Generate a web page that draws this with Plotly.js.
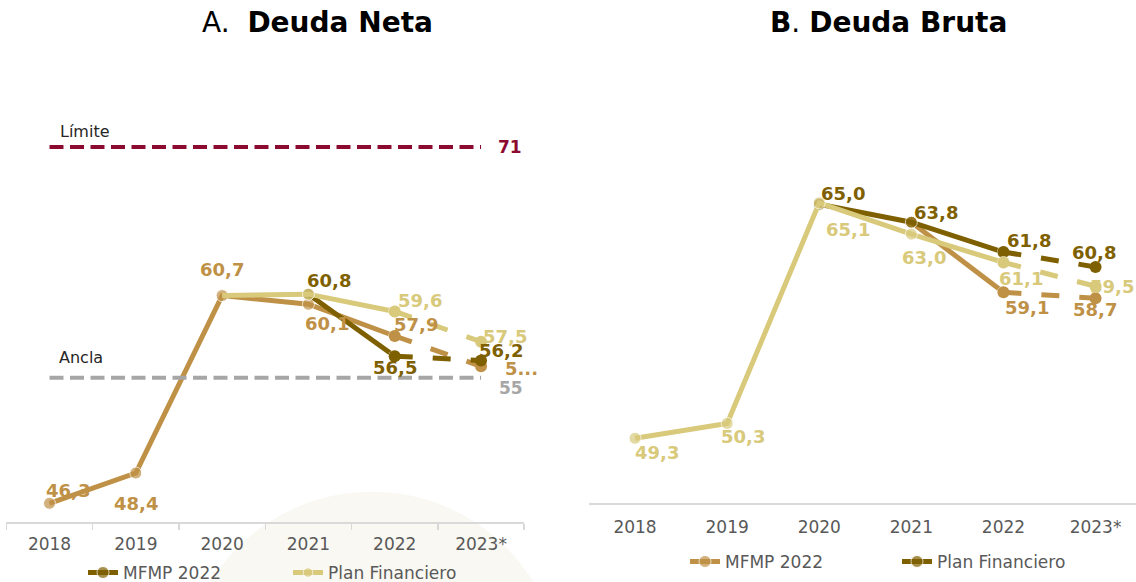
<!DOCTYPE html>
<html>
<head>
<meta charset="utf-8">
<script src="https://cdn.plot.ly/plotly-3.0.1.min.js"></script>
<style>
html,body{margin:0;padding:0;background:#fff;overflow:hidden;}
#chart{position:absolute;left:0;top:0;width:1136px;overflow:hidden;}
</style>
</head>
<body>
<div id="chart"></div>
<script>
// ---------- DATA ----------
const years = ['2018', '2019', '2020', '2021', '2022', '2023*'];

// A. Deuda Neta
const netaMedio = [46.3, 48.4, 60.7, 60.1, 57.9, 55.8];        // medium brown series
const netaMFMP  = [null, null, null, 60.8, 56.5, 56.2];        // dark series (legend: MFMP 2022)
const netaPlan  = [null, null, 60.7, 60.8, 59.6, 57.5];        // light series (legend: Plan Financiero)
const limite = 71;
const ancla = 55;

// B. Deuda Bruta
const brutaClaro = [49.3, 50.3, 65.1, 63.0, 61.1, 59.5];       // light series
const brutaPlan  = [null, null, 65.0, 63.8, 61.8, 60.8];       // dark series (legend: Plan Financiero)
const brutaMFMP  = [null, null, null, 63.8, 59.1, 58.7];       // medium series (legend: MFMP 2022)

// truncated label as shown in the original chart
const truncatedLabels = {'netaMedio-5': '5...'};

// ---------- STYLE ----------
const C_DARK = '#7F6000';
const C_MED = '#BF9146';
const C_LIGHT = '#D8C97B';
const C_LIM = '#8C0A30';
const C_ANCLA = '#A6A6A6';
const W = 1136, H0 = 582;          // reference picture size (positions below are in its pixels)
const H = 591;                      // render height (picture is fitted back to 582)
const ks = H / H0;
document.documentElement.style.height = H + 'px';
document.body.style.height = H + 'px';
document.getElementById('chart').style.height = H + 'px';
const px = v => v / W;
const py = v => 1 - v / H0;
const FONT = 'DejaVu Sans, Verdana, sans-serif';

function fmt(v) { return v.toFixed(1).replace('.', ','); }

const traces = [];
function addSeries(vals, color, xa, ya, opts) {
  const solidX = years.slice(0, 5), solidY = vals.slice(0, 5);
  const msz = solidY.map((v, i) => (opts.hideFirst && v !== null && (i === 0 || solidY[i - 1] === null)) ? 0 : 12);
  traces.push({
    x: solidX, y: solidY, xaxis: xa, yaxis: ya, type: 'scatter', mode: 'lines+markers',
    line: {color: color, width: 5}, marker: {color: color, size: msz},
    name: opts.name || '', showlegend: !!opts.name, legend: opts.legend || 'legend',
    hoverinfo: 'skip'
  });
  traces.push({
    x: years.slice(4), y: vals.slice(4), xaxis: xa, yaxis: ya, type: 'scatter', mode: 'lines+markers',
    line: {color: color, width: 5, dash: '18px,20px'}, marker: {color: color, size: 12},
    showlegend: false, hoverinfo: 'skip'
  });
}

// Panel A (draw order: medium, dark, light)
addSeries(netaMedio, C_MED, 'x', 'y', {});
addSeries(netaMFMP, C_DARK, 'x', 'y', {name: 'MFMP 2022', legend: 'legend'});
addSeries(netaPlan, C_LIGHT, 'x', 'y', {name: 'Plan Financiero', legend: 'legend', hideFirst: true});
// Panel B
addSeries(brutaMFMP, C_MED, 'x2', 'y2', {name: 'MFMP 2022', legend: 'legend2'});
addSeries(brutaPlan, C_DARK, 'x2', 'y2', {name: 'Plan Financiero', legend: 'legend2'});
addSeries(brutaClaro, C_LIGHT, 'x2', 'y2', {});

// ---------- DATA LABELS ----------
const annotations = [];
function addLabels(key, vals, color, xa, ya, shifts) {
  vals.forEach((v, i) => {
    if (v === null || !shifts[i]) return;
    const t = truncatedLabels[key + '-' + i] || fmt(v);
    annotations.push({
      x: i, y: v, xref: xa, yref: ya, text: '<b>' + t + '</b>', showarrow: false,
      xanchor: 'center', yanchor: 'middle',
      xshift: shifts[i][0], yshift: -shifts[i][1] * ks,
      font: {family: FONT, size: 18, color: color}
    });
  });
}
addLabels('netaMedio', netaMedio, C_MED, 'x', 'y', [[18,-13],[0,30],[0,-26],[19,19],[21,-11],[40,2]]);
addLabels('netaMFMP', netaMFMP, C_DARK, 'x', 'y', [null,null,null,[21,-13],[0,11],[20,-10]]);
addLabels('netaPlan', netaPlan, C_LIGHT, 'x', 'y', [null,null,null,null,[25,-11],[24,-5]]);
addLabels('brutaClaro', brutaClaro, C_LIGHT, 'x2', 'y2', [[22,14],[16,13],[29,26],[13,23],[18,16],[16,0]]);
addLabels('brutaPlan', brutaPlan, C_DARK, 'x2', 'y2', [null,null,[24,-11],[25,-10],[26,-11],[-2,-14]]);
addLabels('brutaMFMP', brutaMFMP, C_MED, 'x2', 'y2', [null,null,null,null,[24,15],[-1,11]]);

// Reference-line labels
annotations.push(
  {xref: 'paper', yref: 'y', x: px(58), y: limite, yshift: 15 * ks, xanchor: 'left', yanchor: 'middle', showarrow: false,
   text: 'Límite', font: {family: FONT, size: 16, color: '#262626'}},
  {xref: 'paper', yref: 'y', x: px(496), y: limite, xanchor: 'left', yanchor: 'middle', showarrow: false,
   text: '<b>' + limite + '</b>', font: {family: FONT, size: 17, color: C_LIM}},
  {xref: 'paper', yref: 'y', x: px(57), y: ancla, yshift: 20 * ks, xanchor: 'left', yanchor: 'middle', showarrow: false,
   text: 'Ancla', font: {family: FONT, size: 16, color: '#262626'}},
  {xref: 'paper', yref: 'y', x: px(497), y: ancla, yshift: -10 * ks, xanchor: 'left', yanchor: 'middle', showarrow: false,
   text: '<b>' + ancla + '</b>', font: {family: FONT, size: 17, color: C_ANCLA}},
  // titles
  {xref: 'paper', yref: 'paper', x: px(317), y: py(22), xanchor: 'center', yanchor: 'middle', showarrow: false,
   text: 'A.  <b>Deuda Neta</b>', font: {family: FONT, size: 28, color: '#000'}},
  {xref: 'paper', yref: 'paper', x: px(888), y: py(22), xanchor: 'center', yanchor: 'middle', showarrow: false,
   text: '<b>B</b>. <b>Deuda Bruta</b>', font: {family: FONT, size: 28, color: '#000'}}
);

// ---------- LAYOUT ----------
const axX = {
  type: 'category', categoryarray: years, categoryorder: 'array',
  showgrid: false, zeroline: false, showline: true, linecolor: '#D9D9D9', linewidth: 2,
  tickfont: {family: FONT, size: 17, color: '#595959'}, fixedrange: true
};
const layout = {
  width: W, height: H, margin: {l: 0, r: 0, t: 0, b: 0},
  paper_bgcolor: '#fff', plot_bgcolor: 'rgba(0,0,0,0)',
  xaxis: Object.assign({}, axX, {domain: [px(6.35), px(524.2)], range: [-0.5, 5.5], anchor: 'y',
    ticks: 'outside', tickson: 'boundaries', ticklen: 6, tickcolor: '#D9D9D9', tickwidth: 1.5,
    ticklabelstandoff: 5}),
  yaxis: {domain: [py(520.7), py(60)], range: [44.97, 77.02], visible: false, fixedrange: true},
  xaxis2: Object.assign({}, axX, {domain: [px(589), 1], range: [-0.5, -0.5 + (W - 589) / 92.1], anchor: 'y2',
    ticks: '', ticklabelstandoff: 7}),
  yaxis2: {domain: [py(501.7), py(60)], range: [44.93, 74.67], visible: false, fixedrange: true, anchor: 'x2'},
  showlegend: true,
  legend: {orientation: 'h', x: px(83), y: py(571), xanchor: 'left', yanchor: 'middle',
    font: {family: FONT, size: 17, color: '#595959'}, bgcolor: 'rgba(0,0,0,0)',
    entrywidth: 160, entrywidthmode: 'pixels', itemwidth: 30},
  legend2: {orientation: 'h', x: px(685), y: py(560), xanchor: 'left', yanchor: 'middle',
    font: {family: FONT, size: 17, color: '#595959'}, bgcolor: 'rgba(0,0,0,0)',
    entrywidth: 167, entrywidthmode: 'pixels', itemwidth: 30},
  shapes: [
    {type: 'circle', xref: 'paper', yref: 'paper', layer: 'below',
     x0: px(182), x1: px(562), y0: py(870), y1: py(490), fillcolor: '#FAF8F2', line: {width: 0}},
    {type: 'line', xref: 'x', yref: 'y', x0: 0, x1: 5, y0: limite, y1: limite,
     line: {color: C_LIM, width: 4, dash: '14px,6.5px'}},
    {type: 'line', xref: 'x', yref: 'y', x0: 0, x1: 5, y0: ancla, y1: ancla,
     line: {color: C_ANCLA, width: 4, dash: '14px,6.5px'}}
  ],
  annotations: annotations
};

Plotly.newPlot('chart', traces, layout, {staticPlot: true, displayModeBar: false});
</script>
</body>
</html>
